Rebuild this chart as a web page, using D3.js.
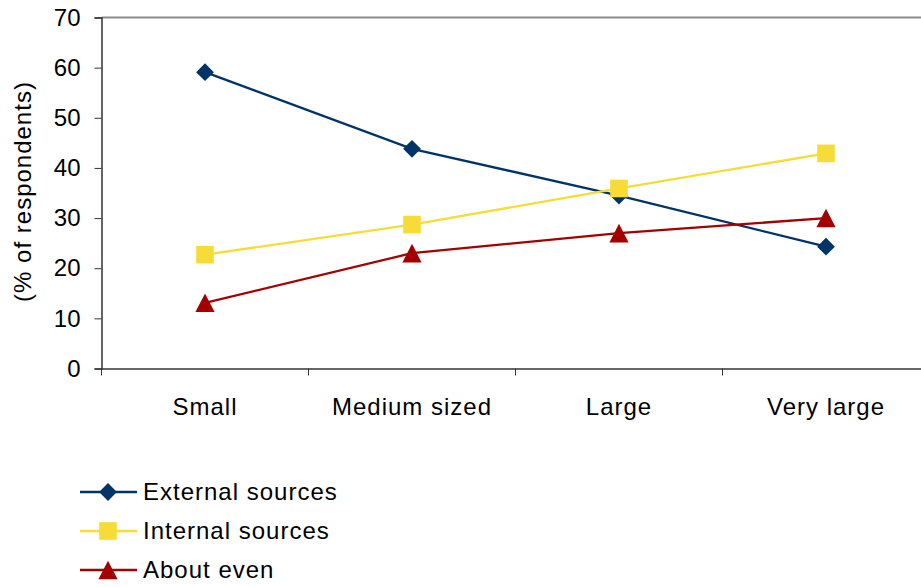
<!DOCTYPE html>
<html><head><meta charset="utf-8">
<script src="https://cdn.jsdelivr.net/npm/d3@7"></script>
<style>body{margin:0;background:#fff}text{font-family:"Liberation Sans",Arial,sans-serif}</style>
</head><body><svg id="c" width="921" height="587"></svg>
<script>
const categories = ["Small", "Medium sized", "Large", "Very large"];
const externalSources = [59.1, 43.8, 34.5, 24.3];
const internalSources = [22.7, 28.7, 35.9, 42.9];
const aboutEven = [13.1, 23.0, 27.0, 30.0];
const seriesNames = ["External sources", "Internal sources", "About even"];
const yTicks = [0, 10, 20, 30, 40, 50, 60, 70];

const series = [
  {name: seriesNames[0], values: externalSources, color: "#003366", shape: "diamond"},
  {name: seriesNames[1], values: internalSources, color: "#f7dc38", shape: "square"},
  {name: seriesNames[2], values: aboutEven, color: "#a50000", shape: "triangle"}
];

const FONT = '"Liberation Sans",Arial,sans-serif';
const svg = d3.select("#c");
const mLeft = 101.5, mRight = 929.5, mTop = 17.5, mBottom = 368.5;
const x = d3.scaleBand().domain(categories).range([mLeft, mRight]);
const y = d3.scaleLinear().domain([0, 70]).range([mBottom, mTop]);

svg.append("line").attr("x1", mLeft).attr("x2", 921).attr("y1", mTop).attr("y2", mTop)
  .attr("stroke", "#8c8c8c").attr("stroke-width", 2);

const yAxis = svg.append("g").attr("transform", `translate(${mLeft},0)`)
  .call(d3.axisLeft(y).tickValues(yTicks).tickSize(7).tickPadding(14));
yAxis.select(".domain").attr("stroke", "#333").attr("stroke-width", 1.5);
yAxis.selectAll(".tick line").attr("stroke", "#333");
yAxis.selectAll("text").attr("font-size", 24).attr("fill", "#000").attr("font-family", FONT);

const xAxis = svg.append("g").attr("transform", `translate(0,${mBottom})`)
  .call(d3.axisBottom(x).tickSize(0).tickPadding(29));
xAxis.select(".domain").attr("stroke", "#333").attr("stroke-width", 1.5);
xAxis.selectAll("text").attr("font-size", 24).attr("fill", "#000").attr("font-family", FONT)
  .attr("letter-spacing", "1px");
const bounds = categories.map(c => x(c)).concat([mRight]);
svg.append("g").selectAll("line").data(bounds).join("line")
  .attr("x1", d => d).attr("x2", d => d).attr("y1", mBottom).attr("y2", mBottom + 7)
  .attr("stroke", "#333").attr("stroke-width", 1);

svg.append("text").attr("transform", `translate(31,191.5) rotate(-90)`)
  .attr("text-anchor", "middle").attr("font-size", 24).attr("letter-spacing", "1px")
  .text("(% of respondents)");

const cx = c => x(c) + x.bandwidth() / 2;
const line = d3.line().x((d, i) => cx(categories[i])).y(d => y(d));

function marker(g, shape, color) {
  const p = g.append("path").attr("fill", color);
  if (shape === "diamond") p.attr("d", d3.symbol(d3.symbolSquare, 158)()).attr("transform", "rotate(45)");
  if (shape === "square") p.attr("d", d3.symbol(d3.symbolSquare, 310)());
  if (shape === "triangle") p.attr("d", "M0,-9.3L9.6,9.3L-9.6,9.3Z");
  return p;
}

series.forEach(s => {
  svg.append("path").attr("d", line(s.values)).attr("fill", "none")
    .attr("stroke", s.color).attr("stroke-width", 2.3);
});
series.forEach(s => {
  s.values.forEach((v, i) => {
    const g = svg.append("g").attr("transform", `translate(${cx(categories[i])},${y(v)})`);
    marker(g, s.shape, s.color);
  });
});

const legY = [492, 531, 570];
series.forEach((s, i) => {
  const g = svg.append("g").attr("transform", `translate(0,${legY[i]})`);
  g.append("line").attr("x1", 80).attr("x2", 137).attr("y1", 0).attr("y2", 0)
    .attr("stroke", s.color).attr("stroke-width", 2.3);
  const m = g.append("g").attr("transform", "translate(108,0)");
  marker(m, s.shape, s.color);
  g.append("text").attr("x", 143).attr("y", 8).attr("font-size", 24)
    .attr("letter-spacing", "1px").text(s.name);
});
</script></body></html>
